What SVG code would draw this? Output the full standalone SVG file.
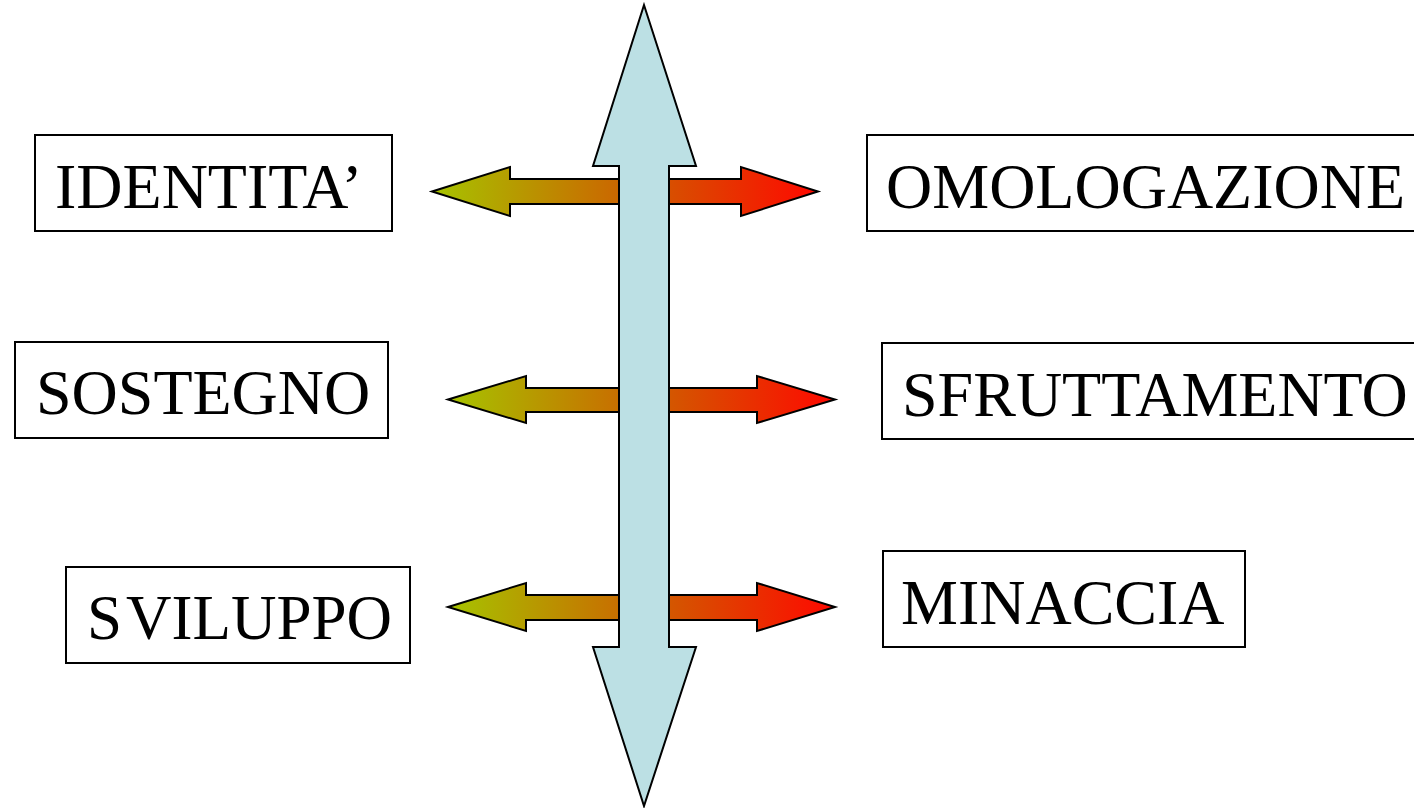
<svg xmlns="http://www.w3.org/2000/svg" width="1414" height="808" viewBox="0 0 1414 808">
<style>
.box{fill:#fff;stroke:#000;stroke-width:2}
.lbl{font-family:"Liberation Serif","Times New Roman",serif;font-size:64px;fill:#000}
.harrow{stroke:#000;stroke-width:2;stroke-linejoin:miter}
.varrow{fill:#bce0e4;stroke:#000;stroke-width:2;stroke-linejoin:miter}
</style>
<defs>
<linearGradient id="g1" gradientUnits="userSpaceOnUse" x1="432" y1="0" x2="818" y2="0">
<stop offset="0" stop-color="#a6c400"/>
<stop offset="0.5" stop-color="#cc6400"/>
<stop offset="1" stop-color="#ff0800"/>
</linearGradient>
<linearGradient id="g2" gradientUnits="userSpaceOnUse" x1="448" y1="0" x2="835" y2="0">
<stop offset="0" stop-color="#a6c400"/>
<stop offset="0.5" stop-color="#cc6400"/>
<stop offset="1" stop-color="#ff0800"/>
</linearGradient>
</defs>
<g id="connectors">
<polygon class="harrow" fill="url(#g1)" points="432,191.5 510,167 510,179 741,179 741,167 818,191.5 741,216 741,204 510,204 510,216"/>
<polygon class="harrow" fill="url(#g2)" points="448,399.5 526,376 526,388 757,388 757,376 835,399.5 757,423 757,412 526,412 526,423"/>
<polygon class="harrow" fill="url(#g2)" points="448,607 526,583 526,595 757,595 757,583 835,607 757,631 757,620 526,620 526,631"/>
<polygon class="varrow" points="644,5 696,166 669,166 669,647 696,647 644,806 593,647 619,647 619,166 593,166"/>
</g>
<g id="node-identita">
<rect class="box" x="35" y="135" width="357" height="96"/>
<text class="lbl" x="55" y="208">IDENTITA’</text>
</g>
<g id="node-omologazione">
<rect class="box" x="867" y="135" width="560" height="96"/>
<text class="lbl" x="886" y="208">OMOLOGAZIONE</text>
</g>
<g id="node-sostegno">
<rect class="box" x="15" y="342" width="373" height="96"/>
<text class="lbl" x="36" y="414">SOSTEGNO</text>
</g>
<g id="node-sfruttamento">
<rect class="box" x="882" y="343" width="560" height="96"/>
<text class="lbl" x="902" y="416">SFRUTTAMENTO</text>
</g>
<g id="node-sviluppo">
<rect class="box" x="66" y="567" width="344" height="96"/>
<text class="lbl" x="87" y="639" style="font-size:63px">S<tspan dx="4">VILUPPO</tspan></text>
</g>
<g id="node-minaccia">
<rect class="box" x="883" y="551" width="362" height="96"/>
<text class="lbl" x="901" y="624">MINACCIA</text>
</g>
</svg>
